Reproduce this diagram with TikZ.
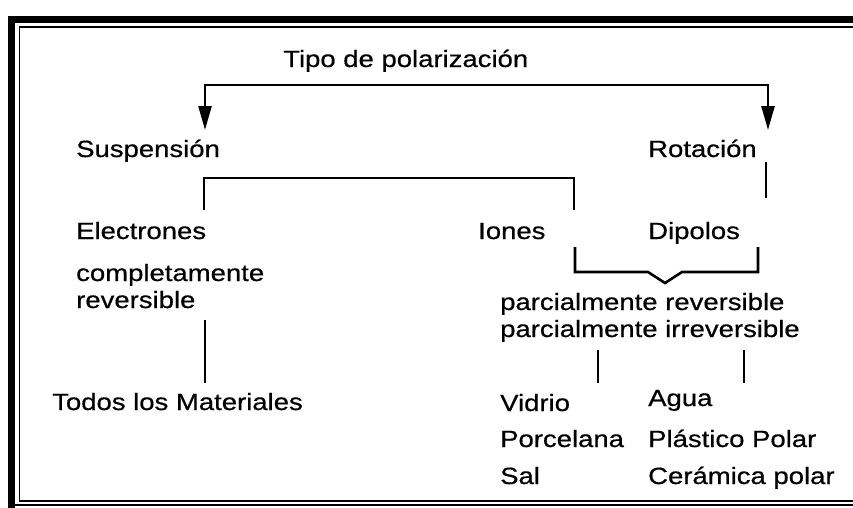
\documentclass[tikz,border=0pt]{standalone}
\usepackage{fontspec}
\setmainfont{Liberation Sans}[FakeStretch=1.17,FakeBold=0.6]
\usetikzlibrary{arrows.meta}
\begin{document}
\begin{tikzpicture}[x=1pt,y=-1pt,
  lbl/.style={anchor=base west,inner sep=0pt,font=\fontsize{23.5}{27}\selectfont},
  conn/.style={line width=2.6pt,line join=miter},
  arr/.style={conn,{Triangle[length=24pt,width=13pt]}-{Triangle[length=24pt,width=13pt]}},
  frame/.style={line width=7pt},
  thin/.style={line width=1.8pt}]
\useasboundingbox (0,0) rectangle (853,507);
% frame
\draw[frame] (860,19.5) -- (11.5,19.5) -- (11.5,510);
\draw[thin] (860,27) -- (19.5,27) -- (19.5,501) -- (860,501);
\draw[thin] (8,505) -- (860,505);
% texts
\node[lbl] (title) at (283,67) {Tipo de polarización};
\node[lbl] (susp) at (76,157) {Suspensión};
\node[lbl] (rot) at (648,157) {Rotación};
\node[lbl] (elec) at (76,239) {Electrones};
\node[lbl] (iones) at (478,239) {Iones};
\node[lbl] (dip) at (648,239) {Dipolos};
\node[lbl] (comp) at (76,281) {completamente};
\node[lbl] (rev) at (76,308) {reversible};
\node[lbl] (todos) at (52,410) {Todos los Materiales};
\node[lbl] (pr1) at (500,310) {parcialmente reversible};
\node[lbl] (pr2) at (500,337) {parcialmente irreversible};
\node[lbl] (vid) at (500,411) {Vidrio};
\node[lbl] (agua) at (648,406) {Agua};
\node[lbl] (porc) at (500,447) {Porcelana};
\node[lbl] (plas) at (648,447) {Plástico Polar};
\node[lbl] (sal) at (500,484) {Sal};
\node[lbl] (cer) at (648,484) {Cerámica polar};
% coordinates
\coordinate (aL) at (205,130);
\coordinate (hL) at (205,85);
\coordinate (hR) at (768,85);
\coordinate (aR) at (768,130);
\coordinate (r1) at (766,162);
\coordinate (r2) at (766,198);
\coordinate (b1) at (204,210);
\coordinate (b2) at (204,178);
\coordinate (b3) at (574,178);
\coordinate (b4) at (574,210);
\coordinate (c1) at (575,247);
\coordinate (c2) at (575,272);
\coordinate (c3) at (648,272);
\coordinate (c4) at (665,283);
\coordinate (c5) at (682,272);
\coordinate (c6) at (758,272);
\coordinate (c7) at (758,247);
\coordinate (l1) at (205,320);
\coordinate (l2) at (205,383);
\coordinate (m1) at (598,350);
\coordinate (m2) at (598,383);
\coordinate (n1) at (744,350);
\coordinate (n2) at (744,383);
% connectors
\draw[arr] (aL) -- (hL) -- (hR) -- (aR);
\draw[conn] (r1) -- (r2);
\draw[conn] (b1) -- (b2) -- (b3) -- (b4);
\draw[conn] (c1) -- (c2) -- (c3) -- (c4) -- (c5) -- (c6) -- (c7);
\draw[conn] (l1) -- (l2);
\draw[conn] (m1) -- (m2);
\draw[conn] (n1) -- (n2);
\end{tikzpicture}
\end{document}
